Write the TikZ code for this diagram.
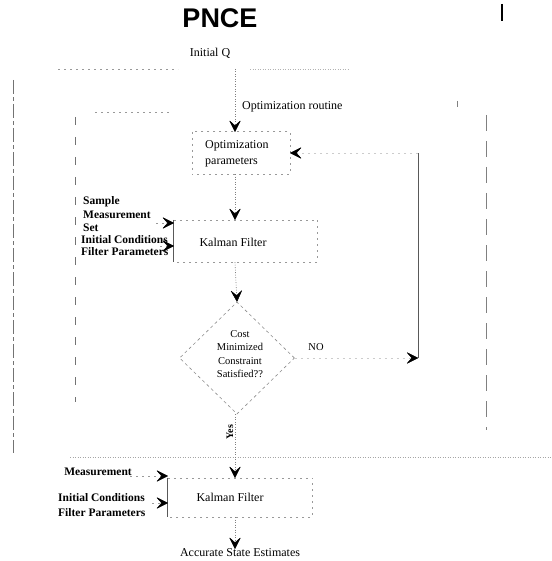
\documentclass[tikz,border=0pt]{standalone}
\usepackage{fontspec}
\setmainfont{Liberation Serif}
\newfontfamily\titlefont{Liberation Sans}
\usetikzlibrary{arrows.meta,shapes.geometric}
\tikzset{
  txt/.style={font=\fontsize{12}{13}\selectfont, inner sep=0pt},
  btxt/.style={font=\bfseries\fontsize{11.5}{12.5}\selectfont, inner sep=0pt, anchor=west},
  dtxt/.style={font=\fontsize{10.5}{13.5}\selectfont, inner sep=0pt, align=center},
  faint/.style={draw=black!40, line width=0.6pt, dash pattern=on 2pt off 4pt},
  dotl/.style={draw=black!50, line width=0.6pt, dash pattern=on 1pt off 1.5pt},
  dark/.style={draw=black!65, line width=0.8pt},
  framel/.style={draw=black!55, line width=0.8pt, dash pattern=on 14pt off 3pt on 4pt off 3pt},
  tip/.style={-{Stealth[length=9pt,width=9pt,inset=4pt,color=black,line width=0.5pt,round,scale=1.35]}},
  boxn/.style={inner sep=0pt, draw=none},
}
\begin{document}
\begin{tikzpicture}[x=1pt,y=-1pt]
\useasboundingbox (0,0) rectangle (551,561);
% title and fragment
\node[font=\titlefont\bfseries\fontsize{27}{30}\selectfont, inner sep=0pt] (title) at (220,18) {PNCE};
\draw[line width=1.4pt] (502,4) -- (502,21);
% texts
\node[txt] (iq) at (210,53) {Initial Q};
\coordinate (ax) at (235,0);
\coordinate (qtop) at (235,69);
\node[txt, anchor=west] (optr) at (242,107) {Optimization routine};
% optimization parameters box
\node[boxn, minimum width=98pt, minimum height=42pt] (optpar) at (241,153) {};
\node[inner sep=0pt, align=left, anchor=west, font=\fontsize{12}{16}\selectfont] (optt) at (205,154) {Optimization\\parameters};
\draw[faint] (optpar.north west) rectangle (optpar.south east);
% upper Kalman filter
\node[boxn, minimum width=143pt, minimum height=42pt] (kf1) at (245.5,241) {};
\node[txt] (kf1t) at (233,242) {Kalman Filter};
\draw[dark] (kf1.north west) -- (kf1.south west);
\draw[faint] (kf1.north west) -- (kf1.north east) -- (kf1.south east) -- (kf1.south west);
% left labels
\node[btxt] (s1) at (83,202) {Sample};
\node[btxt] (s2) at (83,215) {Measurement};
\node[btxt] (s3) at (83,228) {Set};
\node[btxt] (s4) at (81,240) {Initial Conditions};
\node[btxt] (s5) at (81,252) {Filter Parameters};
% decision
\node[diamond, draw=black!45, dash pattern=on 3pt off 3pt, line width=0.6pt, minimum width=115pt, minimum height=112pt, inner sep=0pt] (dec) at (237,358) {};
\node[dtxt] (dect) at (240,354) {Cost\\Minimized\\Constraint\\Satisfied??};
\node[inner sep=0pt, font=\fontsize{10.5}{12}\selectfont] (no) at (316,347) {NO};
\node[inner sep=0pt, rotate=90, font=\bfseries\fontsize{10}{12}\selectfont] (yes) at (230,432) {Yes};
% lower Kalman filter
\node[boxn, minimum width=144pt, minimum height=39pt] (kf2) at (240,497.5) {};
\node[txt] (kf2t) at (230,497) {Kalman Filter};
\draw[dark] (kf2.north west) -- (kf2.south west);
\draw[faint] (kf2.north west) -- (kf2.north east) -- (kf2.south east) -- (kf2.south west);
\node[btxt, anchor=center] (meas2) at (98,472) {Measurement};
\node[inner sep=0pt, anchor=west, align=left, font=\bfseries\fontsize{11.5}{15}\selectfont] (ic2) at (58,505) {Initial Conditions\\Filter Parameters};
\node[txt] (ase) at (240,553) {Accurate State Estimates};
% frame lines
\draw[framel] (13,80) -- (13,453);
\draw[faint] (58,69) -- (178,69);
\draw[dotl, draw=black!30] (250,69) -- (350,69);
\draw[draw=black!55, line width=0.8pt, dash pattern=on 8pt off 12pt] (75,117) -- (75,402);
\draw[faint] (95,112) -- (170,112);
\draw[draw=black!50, line width=0.7pt, dash pattern=on 16pt off 10pt] (486,115) -- (486,430);
\draw[dotl, draw=black!35] (70,457) -- (551,457);
\draw[line width=0.6pt, black!50] (457,101) -- (457,107);
% connectors
\draw[dotl,tip] (qtop) -- (qtop |- optpar.north);
\draw[dotl,tip] (ax |- optpar.south) -- (ax |- kf1.north);
\draw[dotl,tip] (ax |- kf1.south) -- (dec.north);
\coordinate (loopb) at (418,358);
\coordinate (loopt) at (418,153);
\draw[faint,draw=black!20,tip] (dec.east) -- (loopb);
\draw[dark] (loopb) -- (loopt);
\draw[faint,draw=black!20,tip] (loopt) -- (loopt -| optpar.east);
\draw[dotl,tip] (ax |- dec.south) -- (ax |- kf2.north);
\draw[dotl,tip] (ax |- kf2.south) -- (ax |- ase.north);
\coordinate (a1) at (156,223);
\coordinate (a2) at (160,246);
\coordinate (a3) at (130,476);
\coordinate (a4) at (152,503);
\draw[faint,tip] (a1) -- (a1 -| kf1.west);
\draw[faint,tip] (a2) -- (a2 -| kf1.west);
\draw[faint,tip] (a3) -- (a3 -| kf2.west);
\draw[faint,tip] (a4) -- (a4 -| kf2.west);
\end{tikzpicture}
\end{document}
